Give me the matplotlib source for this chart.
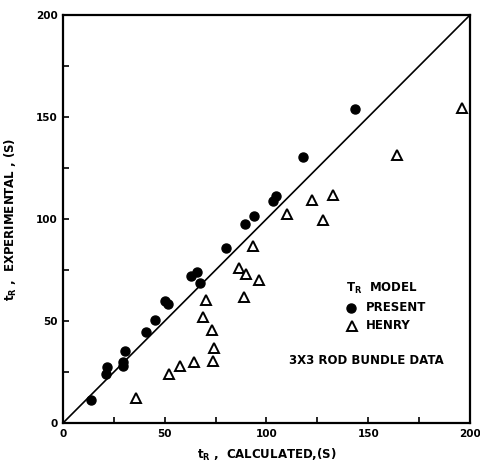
import matplotlib.pyplot as plt
from matplotlib.ticker import MultipleLocator

# Present model (filled circles)
present_calc = [13.6, 21.1, 21.5, 29.3, 29.3, 30.5, 40.8, 45.4, 50.1, 51.8,
                63.1, 66.0, 67.5, 80.3, 89.6, 93.9, 103.0, 104.7, 117.8, 143.7]
present_exp = [11.1, 24.2, 27.5, 27.8, 29.9, 35.1, 44.4, 50.7, 60.0, 58.3,
               71.9, 73.9, 68.6, 85.9, 97.4, 101.3, 108.7, 111.4, 130.6, 153.8]

# Henry model (open triangles)
henry_calc = [35.7, 51.9, 57.7, 64.4, 73.9, 74.4, 73.2, 69.0, 70.1, 88.8,
              86.3, 89.8, 96.3, 93.4, 109.9, 127.9, 122.4, 132.5, 164.1, 196.1]
henry_exp = [12.3, 24.2, 27.8, 30.1, 30.2, 36.8, 45.4, 52.1, 60.1, 61.8,
             76.0, 73.0, 70.3, 86.6, 102.5, 99.7, 109.5, 111.6, 131.4, 154.4]

ticks = [0, 50, 100, 150, 200]

fig = plt.figure(figsize=(4.81, 4.62), dpi=100)
ax = fig.add_axes([0.131, 0.0844, 0.846, 0.883])

ax.plot([0, 200], [0, 200], color='black', lw=1.2)
ax.plot(present_calc, present_exp, 'o', color='black', ms=6.5)
ax.plot(henry_calc, henry_exp, '^', mfc='white', mec='black', mew=1.4, ms=7.5)

ax.set_xlim(0, 200)
ax.set_ylim(0, 200)
ax.set_xticks(ticks)
ax.set_yticks(ticks)
ax.xaxis.set_minor_locator(MultipleLocator(25))
ax.yaxis.set_minor_locator(MultipleLocator(25))
ax.tick_params(which='both', direction='in', length=4, width=1.2,
               labelsize=7.5, pad=4)
for lab in ax.get_xticklabels() + ax.get_yticklabels():
    lab.set_fontweight('heavy')
for s in ax.spines.values():
    s.set_linewidth(1.6)

fs = 8.5
ax.set_xlabel(r'$\mathbf{t_R}$ ,  CALCULATED,(S)', fontsize=fs,
              fontweight='bold', labelpad=6)
ax.set_ylabel(r'$\mathbf{t_R}$ ,  EXPERIMENTAL , (S)', fontsize=fs,
              fontweight='bold', labelpad=12)

ax.text(139, 66, r'$\mathbf{T_R}$  MODEL', fontsize=fs, fontweight='bold',
        va='center')
ax.plot([141.5], [56.4], 'o', color='black', ms=6.5)
ax.text(149, 56.4, 'PRESENT', fontsize=fs, fontweight='bold', va='center')
ax.plot([142], [47.6], '^', mfc='white', mec='black', mew=1.4, ms=7.5)
ax.text(149, 47.6, 'HENRY', fontsize=fs, fontweight='bold', va='center')
ax.text(111, 30.4, '3X3 ROD BUNDLE DATA', fontsize=fs,
        fontweight='bold', va='center')

fig.savefig('out.png', dpi=100)
